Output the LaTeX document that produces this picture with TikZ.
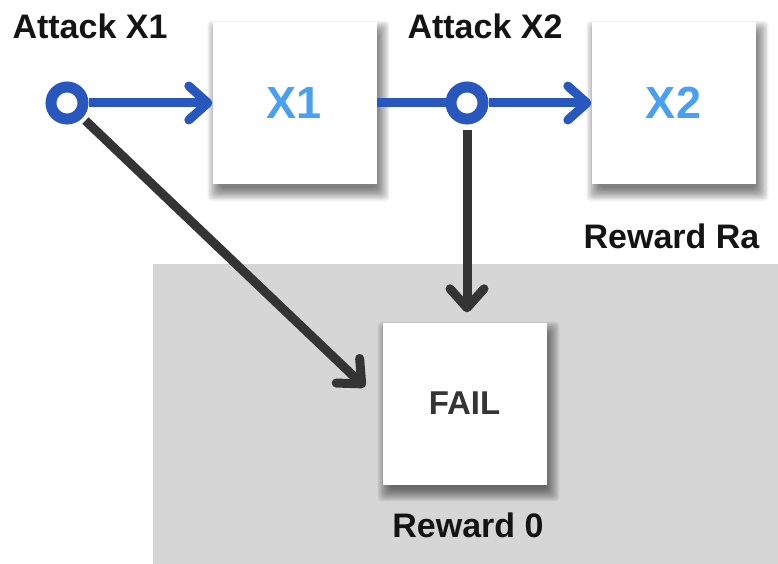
\documentclass[tikz,border=0pt]{standalone}
\usepackage{fontspec}
\setmainfont{Liberation Sans}
\usetikzlibrary{arrows.meta,calc}
\definecolor{linkblue}{RGB}{40,88,190}
\definecolor{labelblue}{RGB}{74,160,240}
\definecolor{darkline}{RGB}{52,52,52}
\definecolor{zonegray}{RGB}{214,214,214}
\pgfdeclarelayer{zone}
\pgfdeclarelayer{shade}
\pgfsetlayers{zone,shade,main}
\tikzset{
  statebox/.style={fill=white, minimum width=164pt, minimum height=162pt, inner sep=0pt},
  choice/.style={circle, draw=linkblue, line width=11pt, fill=white, minimum size=32pt, inner sep=0pt},
  caption/.style={font=\fontsize{34}{40}\selectfont\bfseries, text=black!92, inner sep=0pt, anchor=base},
  bigtext/.style={font=\fontsize{45}{50}\selectfont\bfseries, text=labelblue},
  failtext/.style={font=\fontsize{33}{40}\selectfont\bfseries, text=darkline},
  barb/.style={-{Straight Barb[length=19pt,width=34pt,round]}},
  blueflow/.style={draw=linkblue, line width=9pt},
  darkflow/.style={draw=darkline, line width=9pt, barb},
}
% soft drop shadow under a named box, built from stacked translucent layers
\newcommand\softshade[1]{%
  \begin{pgfonlayer}{shade}
    \foreach \d in {-4,-2.6,...,9}{%
      \fill[black, opacity=0.065, rounded corners=4pt]
        ($(#1.south west)+(4pt-\d pt,-8pt-\d pt)$) rectangle ($(#1.north east)+(4pt+\d pt,-8pt+\d pt)$);
    }
  \end{pgfonlayer}}
\begin{document}
\begin{tikzpicture}[x=1pt,y=1pt]
\useasboundingbox (0,0) rectangle (778,-564);
% grey zone holding the failure state
\begin{pgfonlayer}{zone}
  \fill[zonegray] (153,-264) rectangle (778,-564);
\end{pgfonlayer}

% states
\node[statebox, bigtext] (x1) at (294.5,-103) {X1};
\node[statebox, bigtext] (x2) at (673.5,-103) {X2};
\node[statebox, failtext] (fail) at (464.5,-403.5) {FAIL};
\softshade{x1}
\softshade{x2}
\softshade{fail}

% decision points
\node[choice] (c1) at (67,-103) {};
\node[choice] (c2) at (467,-103) {};

% captions
\node[caption] (a1) at (90,-39) {Attack X1};
\node[caption] (a2) at (485,-39) {Attack X2};
\node[caption] (ra) at (671.5,-248) {Reward Ra};
\node[caption] (r0) at (468,-537) {Reward 0};

% successful path
\draw[blueflow, barb] (c1) -- (c1 -| x1.west);
\draw[blueflow] (x1.east) -- (c2);
\draw[blueflow, barb] (c2) -- (c2 -| x2.west);

% failure paths
\draw[darkflow, shorten <=4pt, shorten >=24pt] (c1) -- (fail.west);
\draw[darkflow, shorten <=6pt, shorten >=10pt] (c2) -- (c2 |- fail.north);
\end{tikzpicture}
\end{document}
